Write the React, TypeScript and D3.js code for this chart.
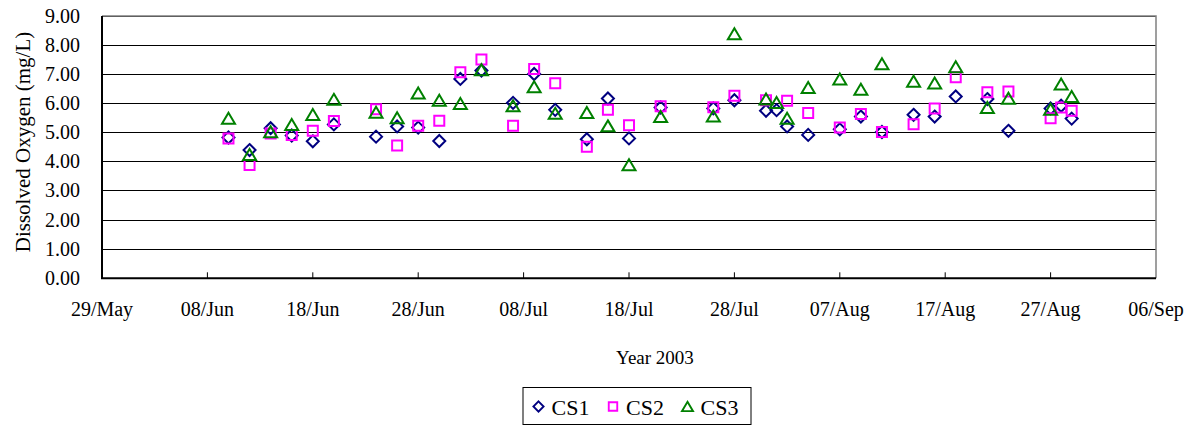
import React, { useEffect, useRef } from "react";
import * as d3 from "d3";

const sampleDates = [
  "2003-06-10", "2003-06-12", "2003-06-14", "2003-06-16", "2003-06-18", "2003-06-20",
  "2003-06-24", "2003-06-26", "2003-06-28", "2003-06-30", "2003-07-02", "2003-07-04",
  "2003-07-07", "2003-07-09", "2003-07-11", "2003-07-14", "2003-07-16", "2003-07-18",
  "2003-07-21", "2003-07-26", "2003-07-28", "2003-07-31", "2003-08-01", "2003-08-02",
  "2003-08-04", "2003-08-07", "2003-08-09", "2003-08-11", "2003-08-14", "2003-08-16",
  "2003-08-18", "2003-08-21", "2003-08-23", "2003-08-27", "2003-08-28", "2003-08-29",
];

const cs1 = [
  4.83, 4.40, 5.15, 4.90, 4.70, 5.28, 4.86, 5.21, 5.17, 4.71, 6.84, 7.13,
  6.02, 7.01, 5.78, 4.77, 6.17, 4.80, 5.86, 5.83, 6.11, 5.75, 5.77, 5.21,
  4.92, 5.11, 5.55, 5.02, 5.61, 5.55, 6.24, 6.15, 5.06, 5.83, 5.92, 5.48,
];
const cs2: (number | null)[] = [
  4.80, 3.89, 4.97, 4.92, 5.06, 5.40, 5.80, 4.56, 5.23, 5.41, 7.07, 7.51,
  5.23, 7.18, 6.69, 4.51, 5.78, 5.25, 5.90, 5.87, 6.26, 6.11, null, 6.09,
  5.67, 5.17, 5.64, 5.02, 5.29, 5.83, 6.90, 6.38, 6.41, 5.49, 5.86, 5.75,
];
const cs3 = [
  5.49, 4.25, 5.03, 5.28, 5.62, 6.14, 5.70, 5.51, 6.36, 6.11, 6.00, 7.16,
  5.92, 6.57, 5.66, 5.69, 5.23, 3.90, 5.55, 5.57, 8.39, 6.15, 6.03, 5.49,
  6.55, 6.84, 6.49, 7.36, 6.76, 6.70, 7.26, 5.86, 6.18, 5.80, 6.67, 6.24,
];

const xTickDates = [
  "2003-05-29", "2003-06-08", "2003-06-18", "2003-06-28", "2003-07-08", "2003-07-18",
  "2003-07-28", "2003-08-07", "2003-08-17", "2003-08-27", "2003-09-06",
];
const yTicks = [0, 1, 2, 3, 4, 5, 6, 7, 8, 9];

const seriesNames = ["CS1", "CS2", "CS3"];
const seriesColors = ["#000080", "#FF00FF", "#008000"];
const seriesShapes = ["diamond", "square", "triangle"];

const parse = d3.timeParse("%Y-%m-%d");
const fmt = d3.timeFormat("%d/%b");

function markerPath(shape: string): string {
  if (shape === "diamond") return "M0,-6L6,0L0,6L-6,0Z";
  if (shape === "square") return "M-5,-5H5V5H-5Z";
  return "M0,-5.5L6.5,5.5H-6.5Z";
}

export default function App() {
  const ref = useRef<SVGSVGElement>(null);

  useEffect(() => {
    const svg = d3.select(ref.current);
    svg.selectAll("*").remove();
    const W = 1200, H = 426;
    const L = 102, R = 1156, T = 16, B = 278.3;
    const font = "'Liberation Serif', 'Times New Roman', serif";

    const x = d3.scaleTime()
      .domain([parse(xTickDates[0])!, parse(xTickDates[xTickDates.length - 1])!])
      .range([L, R]);
    const y = d3.scaleLinear().domain([0, 9]).range([B, T]);

    svg.append("rect").attr("x", 0).attr("y", 0).attr("width", W).attr("height", H).attr("fill", "#fff");

    svg.append("g").selectAll("line").data(yTicks.slice(1)).join("line")
      .attr("x1", L).attr("x2", R)
      .attr("y1", (d) => y(d)).attr("y2", (d) => y(d))
      .attr("stroke", "#000").attr("stroke-width", 1)
      .attr("shape-rendering", "crispEdges");

    svg.append("path")
      .attr("d", `M${L},${T}H${R}V${B}`)
      .attr("fill", "none").attr("stroke", "#808080").attr("stroke-width", 1.5);

    svg.append("line").attr("x1", L).attr("x2", L).attr("y1", T).attr("y2", B)
      .attr("stroke", "#000").attr("stroke-width", 2);
    svg.append("line").attr("x1", L - 1).attr("x2", R).attr("y1", B).attr("y2", B)
      .attr("stroke", "#000").attr("stroke-width", 2);

    const xt = xTickDates.map((s) => parse(s)!);
    svg.append("g").selectAll("line").data(xt.slice(1, -1)).join("line")
      .attr("x1", (d) => x(d)).attr("x2", (d) => x(d))
      .attr("y1", B).attr("y2", B - 6)
      .attr("stroke", "#000").attr("stroke-width", 1);

    svg.append("g").selectAll("text").data(xt).join("text")
      .attr("x", (d) => x(d)).attr("y", 316)
      .attr("text-anchor", "middle")
      .attr("font-family", font).attr("font-size", 20)
      .text((d) => fmt(d));

    svg.append("g").selectAll("text").data(yTicks).join("text")
      .attr("x", 80).attr("y", (d) => y(d) + 6.5)
      .attr("text-anchor", "end")
      .attr("font-family", font).attr("font-size", 20)
      .text((d) => d.toFixed(2));

    svg.append("text")
      .attr("transform", `translate(30,142) rotate(-90)`)
      .attr("text-anchor", "middle")
      .attr("font-family", font).attr("font-size", 21)
      .text("Dissolved Oxygen (mg/L)");

    svg.append("text")
      .attr("x", 655).attr("y", 364)
      .attr("text-anchor", "middle")
      .attr("font-family", font).attr("font-size", 19)
      .text("Year 2003");

    const all = [cs1, cs2, cs3];
    all.forEach((vals, si) => {
      const pts = sampleDates
        .map((s, i) => ({ d: parse(s)!, v: vals[i] }))
        .filter((p) => p.v !== null && p.v !== undefined) as { d: Date; v: number }[];
      svg.append("g").selectAll("path").data(pts).join("path")
        .attr("transform", (p) => `translate(${x(p.d)},${y(p.v)})`)
        .attr("d", markerPath(seriesShapes[si]))
        .attr("fill", "none")
        .attr("stroke", seriesColors[si])
        .attr("stroke-width", 2);
    });

    const lg = svg.append("g");
    lg.append("rect").attr("x", 523).attr("y", 387.5).attr("width", 228).attr("height", 37)
      .attr("fill", "#fff").attr("stroke", "#000").attr("stroke-width", 1);
    const itemX = [538.5, 613, 687.5];
    seriesNames.forEach((n, i) => {
      lg.append("path")
        .attr("transform", `translate(${itemX[i]},406.5) scale(0.85)`)
        .attr("d", markerPath(seriesShapes[i]))
        .attr("fill", "none").attr("stroke", seriesColors[i]).attr("stroke-width", 2.2);
      lg.append("text")
        .attr("x", itemX[i] + 13).attr("y", 415)
        .attr("font-family", font).attr("font-size", 22)
        .text(n);
    });
  }, []);

  return (
    <svg
      ref={ref}
      width={1200}
      height={426}
      style={{ position: "absolute", left: 0, top: 0, display: "block" }}
    />
  );
}
